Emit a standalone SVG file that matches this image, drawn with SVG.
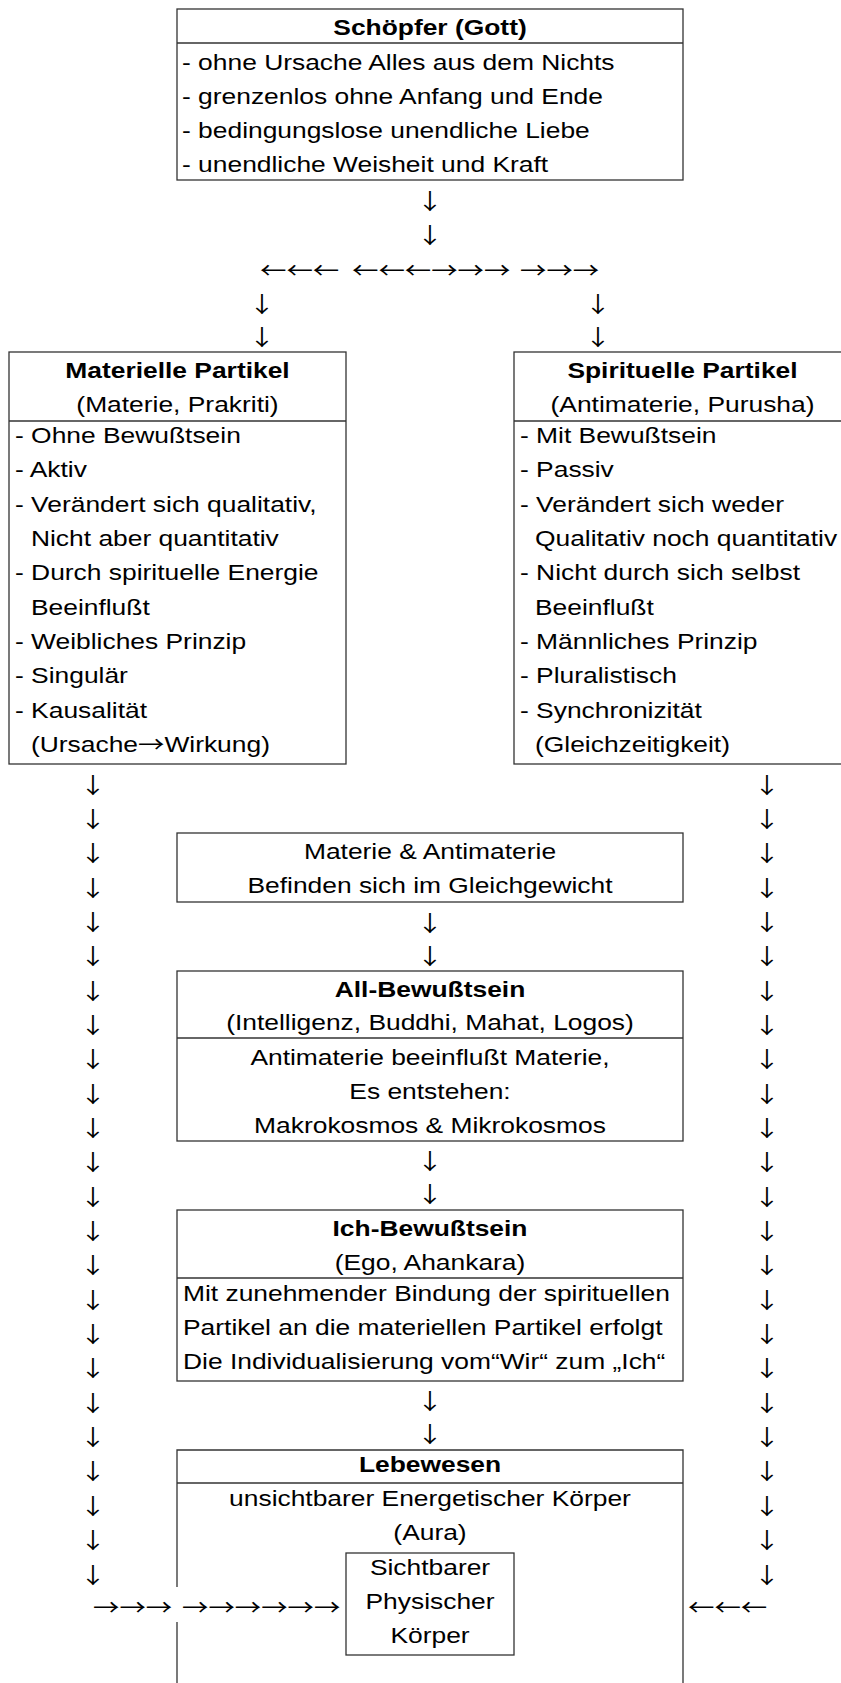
<svg xmlns="http://www.w3.org/2000/svg" width="841" height="1683" viewBox="0 0 841 1683">
<style>
.t{font-family:"Liberation Sans",Arial,"DejaVu Sans",sans-serif;font-size:22px;fill:#000}
.a{font-family:"Noto Sans CJK JP","DejaVu Sans",sans-serif;font-size:22px;fill:#000}
.b{font-weight:bold}
.c{text-anchor:middle}
.box{fill:#fff;stroke:#333;stroke-width:1.3}
.ln{fill:none;stroke:#333;stroke-width:1.3}
</style>
<rect x="0" y="0" width="841" height="1683" fill="#fff"/>
<g id="schoepfer">
<rect class="box" x="177" y="9" width="506" height="171"/>
<line class="ln" x1="177" y1="43" x2="683" y2="43"/>
<text class="t b c" transform="translate(430 35) scale(1.2 1)">Schöpfer (Gott)</text>
<text class="t" transform="translate(182 70) scale(1.2 1)"><tspan x="0">- ohne Ursache Alles aus dem Nichts</tspan><tspan x="0" dy="34">- grenzenlos ohne Anfang und Ende</tspan><tspan x="0" dy="34">- bedingungslose unendliche Liebe</tspan><tspan x="0" dy="34">- unendliche Weisheit und Kraft</tspan></text>
</g>
<g id="materielle">
<rect class="box" x="9" y="352" width="337" height="412"/>
<line class="ln" x1="9" y1="421" x2="346" y2="421"/>
<text class="t b c" transform="translate(177.5 378) scale(1.2 1)">Materielle Partikel</text>
<text class="t c" transform="translate(177.5 412) scale(1.2 1)">(Materie, Prakriti)</text>
<text class="t" transform="translate(15 443) scale(1.2 1)"><tspan x="0">- Ohne Bewußtsein</tspan><tspan x="0" dy="34.35">- Aktiv</tspan><tspan x="0" dy="34.35">- Verändert sich qualitativ,</tspan><tspan x="13.3" dy="34.35">Nicht aber quantitativ</tspan><tspan x="0" dy="34.35">- Durch spirituelle Energie</tspan><tspan x="13.3" dy="34.35">Beeinflußt</tspan><tspan x="0" dy="34.35">- Weibliches Prinzip</tspan><tspan x="0" dy="34.35">- Singulär</tspan><tspan x="0" dy="34.35">- Kausalität</tspan><tspan x="13.3" dy="34.35">(Ursache<tspan class="a">→</tspan>Wirkung)</tspan></text>
</g>
<g id="spirituelle">
<rect class="box" x="514" y="352" width="337" height="412"/>
<line class="ln" x1="514" y1="421" x2="851" y2="421"/>
<text class="t b c" transform="translate(682.5 378) scale(1.2 1)">Spirituelle Partikel</text>
<text class="t c" transform="translate(682.5 412) scale(1.2 1)">(Antimaterie, Purusha)</text>
<text class="t" transform="translate(520 443) scale(1.2 1)"><tspan x="0">- Mit Bewußtsein</tspan><tspan x="0" dy="34.35">- Passiv</tspan><tspan x="0" dy="34.35">- Verändert sich weder</tspan><tspan x="12.5" dy="34.35">Qualitativ noch quantitativ</tspan><tspan x="0" dy="34.35">- Nicht durch sich selbst</tspan><tspan x="12.5" dy="34.35">Beeinflußt</tspan><tspan x="0" dy="34.35">- Männliches Prinzip</tspan><tspan x="0" dy="34.35">- Pluralistisch</tspan><tspan x="0" dy="34.35">- Synchronizität</tspan><tspan x="12.5" dy="34.35">(Gleichzeitigkeit)</tspan></text>
</g>
<g id="gleichgewicht">
<rect class="box" x="177" y="833" width="506" height="69"/>
<text class="t c" transform="translate(430 859) scale(1.2 1)"><tspan x="0">Materie &amp; Antimaterie</tspan><tspan x="0" dy="34">Befinden sich im Gleichgewicht</tspan></text>
</g>
<g id="allbewusstsein">
<rect class="box" x="177" y="971" width="506" height="170"/>
<line class="ln" x1="177" y1="1038" x2="683" y2="1038"/>
<text class="t b c" transform="translate(430 997) scale(1.2 1)">All-Bewußtsein</text>
<text class="t c" transform="translate(430 1030) scale(1.2 1)">(Intelligenz, Buddhi, Mahat, Logos)</text>
<text class="t c" transform="translate(430 1065) scale(1.2 1)"><tspan x="0">Antimaterie beeinflußt Materie,</tspan><tspan x="0" dy="34">Es entstehen:</tspan><tspan x="0" dy="34">Makrokosmos &amp; Mikrokosmos</tspan></text>
</g>
<g id="ichbewusstsein">
<rect class="box" x="177" y="1210" width="506" height="171"/>
<line class="ln" x1="177" y1="1278" x2="683" y2="1278"/>
<text class="t b c" transform="translate(430 1236) scale(1.2 1)">Ich-Bewußtsein</text>
<text class="t c" transform="translate(430 1270) scale(1.2 1)">(Ego, Ahankara)</text>
<text class="t" transform="translate(183 1301) scale(1.2 1)"><tspan x="0">Mit zunehmender Bindung der spirituellen</tspan><tspan x="0" dy="34">Partikel an die materiellen Partikel erfolgt</tspan><tspan x="0" dy="34">Die Individualisierung vom“Wir“ zum „Ich“</tspan></text>
</g>
<g id="lebewesen">
<path class="ln" d="M177 1700V1622M177 1587V1450H683V1700"/>
<line class="ln" x1="177" y1="1483" x2="683" y2="1483"/>
<text class="t b c" transform="translate(430 1472) scale(1.2 1)">Lebewesen</text>
<text class="t c" transform="translate(430 1506) scale(1.2 1)"><tspan x="0">unsichtbarer Energetischer Körper</tspan><tspan x="0" dy="34">(Aura)</tspan></text>
</g>
<g id="koerper">
<rect class="box" x="346" y="1553" width="168" height="102"/>
<text class="t c" transform="translate(430 1575) scale(1.2 1)"><tspan x="0">Sichtbarer</tspan><tspan x="0" dy="34">Physischer</tspan><tspan x="0" dy="34">Körper</tspan></text>
</g>
<g id="connectors">
<text class="a c" transform="translate(430 209) scale(1.2 1)"><tspan x="0">↓</tspan><tspan x="0" dy="34">↓</tspan></text>
<text class="a" transform="translate(260 277.5) scale(1.2 1)">←←←</text>
<text class="a" transform="translate(352 277.5) scale(1.2 1)">←←←→→→</text>
<text class="a" transform="translate(520 277.5) scale(1.2 1)">→→→</text>
<text class="a c" transform="translate(262 312) scale(1.2 1)"><tspan x="0">↓</tspan><tspan x="0" dy="33">↓</tspan></text>
<text class="a c" transform="translate(598 312) scale(1.2 1)"><tspan x="0">↓</tspan><tspan x="0" dy="33">↓</tspan></text>
<text class="a c" transform="translate(430 931) scale(1.2 1)"><tspan x="0">↓</tspan><tspan x="0" dy="33">↓</tspan></text>
<text class="a c" transform="translate(430 1169) scale(1.2 1)"><tspan x="0">↓</tspan><tspan x="0" dy="33">↓</tspan></text>
<text class="a c" transform="translate(430 1409) scale(1.2 1)"><tspan x="0">↓</tspan><tspan x="0" dy="33">↓</tspan></text>
<text class="a c" transform="translate(93 792.5) scale(1.2 1)"><tspan x="0">↓</tspan><tspan x="0" dy="34.35">↓</tspan><tspan x="0" dy="34.35">↓</tspan><tspan x="0" dy="34.35">↓</tspan><tspan x="0" dy="34.35">↓</tspan><tspan x="0" dy="34.35">↓</tspan><tspan x="0" dy="34.35">↓</tspan><tspan x="0" dy="34.35">↓</tspan><tspan x="0" dy="34.35">↓</tspan><tspan x="0" dy="34.35">↓</tspan><tspan x="0" dy="34.35">↓</tspan><tspan x="0" dy="34.35">↓</tspan><tspan x="0" dy="34.35">↓</tspan><tspan x="0" dy="34.35">↓</tspan><tspan x="0" dy="34.35">↓</tspan><tspan x="0" dy="34.35">↓</tspan><tspan x="0" dy="34.35">↓</tspan><tspan x="0" dy="34.35">↓</tspan><tspan x="0" dy="34.35">↓</tspan><tspan x="0" dy="34.35">↓</tspan><tspan x="0" dy="34.35">↓</tspan><tspan x="0" dy="34.35">↓</tspan><tspan x="0" dy="34.35">↓</tspan><tspan x="0" dy="34.35">↓</tspan></text>
<text class="a c" transform="translate(767 792.5) scale(1.2 1)"><tspan x="0">↓</tspan><tspan x="0" dy="34.35">↓</tspan><tspan x="0" dy="34.35">↓</tspan><tspan x="0" dy="34.35">↓</tspan><tspan x="0" dy="34.35">↓</tspan><tspan x="0" dy="34.35">↓</tspan><tspan x="0" dy="34.35">↓</tspan><tspan x="0" dy="34.35">↓</tspan><tspan x="0" dy="34.35">↓</tspan><tspan x="0" dy="34.35">↓</tspan><tspan x="0" dy="34.35">↓</tspan><tspan x="0" dy="34.35">↓</tspan><tspan x="0" dy="34.35">↓</tspan><tspan x="0" dy="34.35">↓</tspan><tspan x="0" dy="34.35">↓</tspan><tspan x="0" dy="34.35">↓</tspan><tspan x="0" dy="34.35">↓</tspan><tspan x="0" dy="34.35">↓</tspan><tspan x="0" dy="34.35">↓</tspan><tspan x="0" dy="34.35">↓</tspan><tspan x="0" dy="34.35">↓</tspan><tspan x="0" dy="34.35">↓</tspan><tspan x="0" dy="34.35">↓</tspan><tspan x="0" dy="34.35">↓</tspan></text>
<text class="a" transform="translate(93 1614.5) scale(1.2 1)">→→→</text>
<text class="a" transform="translate(182 1614.5) scale(1.2 1)">→→→→→→</text>
<text class="a" transform="translate(688 1614.5) scale(1.2 1)">←←←</text>
</g>
</svg>
